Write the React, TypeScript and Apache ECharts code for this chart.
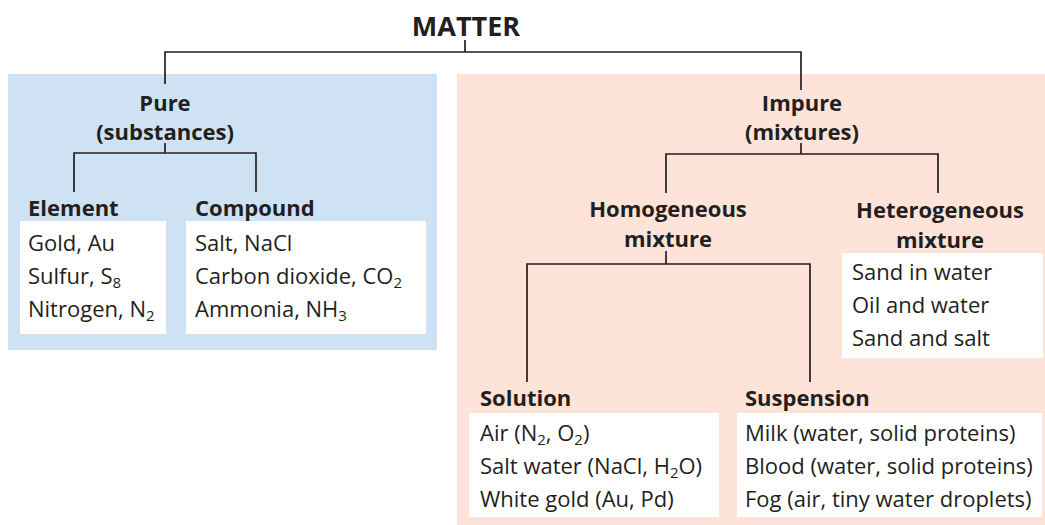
import React, { useEffect, useRef } from "react";
import * as echarts from "echarts";

// ---- content ----
const titleText = "MATTER";
const pureLabel = ["Pure", "(substances)"];
const impureLabel = ["Impure", "(mixtures)"];
const homogeneousLabel = ["Homogeneous", "mixture"];
const heterogeneousLabel = ["Heterogeneous", "mixture"];
const elementLabel = "Element";
const compoundLabel = "Compound";
const solutionLabel = "Solution";
const suspensionLabel = "Suspension";
const elementItems = ["Gold, Au", "Sulfur, S_8", "Nitrogen, N_2"];
const compoundItems = ["Salt, NaCl", "Carbon dioxide, CO_2", "Ammonia, NH_3"];
const heterogeneousItems = ["Sand in water", "Oil and water", "Sand and salt"];
const solutionItems = ["Air (N_2, O_2)", "Salt water (NaCl, H_2O)", "White gold (Au, Pd)"];
const suspensionItems = [
  "Milk (water, solid proteins)",
  "Blood (water, solid proteins)",
  "Fog (air, tiny water droplets)",
];

const INK = "#231f20";
const BLUE = "#cfe2f3";
const PINK = "#fde3d8";
const FONT = "'Open Sans', 'Noto Sans', sans-serif";

function toRich(s: string) {
  return s.replace(/_(\d)/g, "{sub|$1}");
}

function rect(x: number, y: number, w: number, h: number, fill: string) {
  return { type: "rect", shape: { x, y, width: w, height: h }, style: { fill }, silent: true };
}
function line(points: number[][]) {
  return {
    type: "polyline",
    shape: { points },
    style: { stroke: INK, lineWidth: 1.7, fill: null },
    silent: true,
  };
}
function boldText(text: string, x: number, y: number, size: number, align = "center") {
  return {
    type: "text",
    style: {
      text,
      x,
      y,
      fill: INK,
      fontFamily: FONT,
      fontWeight: "bold",
      fontSize: size,
      align,
      verticalAlign: "middle",
      textAlign: align,
      textVerticalAlign: "middle",
    },
    silent: true,
  };
}
function twoLine(lines: string[], cx: number, y1: number, gap: number, size: number) {
  return [boldText(lines[0], cx, y1, size), boldText(lines[1], cx, y1 + gap, size)];
}
function items(list: string[], x: number, yFirst: number) {
  return list.map((t, i) => ({
    type: "text",
    style: {
      text: toRich(t),
      x,
      y: yFirst + i * 33,
      fill: INK,
      fontFamily: FONT,
      fontSize: 22,
      align: "left",
      verticalAlign: "middle",
      textAlign: "left",
      textVerticalAlign: "middle",
      rich: {
        sub: { fontSize: 15, fontFamily: FONT, fill: INK, padding: [13, 0, 0, 0] },
      },
    },
    silent: true,
  }));
}

export default function App() {
  const ref = useRef<HTMLDivElement>(null);
  useEffect(() => {
    document.body.style.margin = "0";
    const chart = echarts.init(ref.current!, null, { renderer: "svg" });
    const elements: any[] = [
      // background panels
      rect(8, 74, 429, 276, BLUE),
      rect(457, 74, 588, 451, PINK),
      // white boxes
      rect(20, 221, 146, 113, "#ffffff"),
      rect(186, 221, 240, 113, "#ffffff"),
      rect(842, 253, 201, 105, "#ffffff"),
      rect(469, 413, 250, 104, "#ffffff"),
      rect(737, 413, 305, 104, "#ffffff"),
      // connectors
      line([[465, 40], [465, 52]]),
      line([[165, 84], [165, 52], [801, 52], [801, 90]]),
      line([[165, 143], [165, 153]]),
      line([[74, 192], [74, 153], [256, 153], [256, 192]]),
      line([[801, 143], [801, 154]]),
      line([[666, 193], [666, 154], [938, 154], [938, 193]]),
      line([[666, 251], [666, 264]]),
      line([[527, 382], [527, 264], [810, 264], [810, 382]]),
      // titles
      boldText(titleText, 466, 25, 27),
      ...twoLine(pureLabel, 165, 102, 29, 22),
      ...twoLine(impureLabel, 802, 102, 29, 22),
      ...twoLine(homogeneousLabel, 668, 208, 30, 22),
      ...twoLine(heterogeneousLabel, 940, 209, 30, 22),
      boldText(elementLabel, 28, 207, 22, "left"),
      boldText(compoundLabel, 195, 207, 22, "left"),
      boldText(solutionLabel, 480, 397, 22, "left"),
      boldText(suspensionLabel, 745, 397, 22, "left"),
      // item lists
      ...items(elementItems, 28, 242),
      ...items(compoundItems, 195, 242),
      ...items(heterogeneousItems, 852, 271),
      ...items(solutionItems, 480, 432),
      ...items(suspensionItems, 745, 432),
    ];
    chart.setOption({
      animation: false,
      backgroundColor: "#ffffff",
      graphic: { elements },
    });
    return () => chart.dispose();
  }, []);
  return <div ref={ref} style={{ width: 1045, height: 525 }} />;
}
